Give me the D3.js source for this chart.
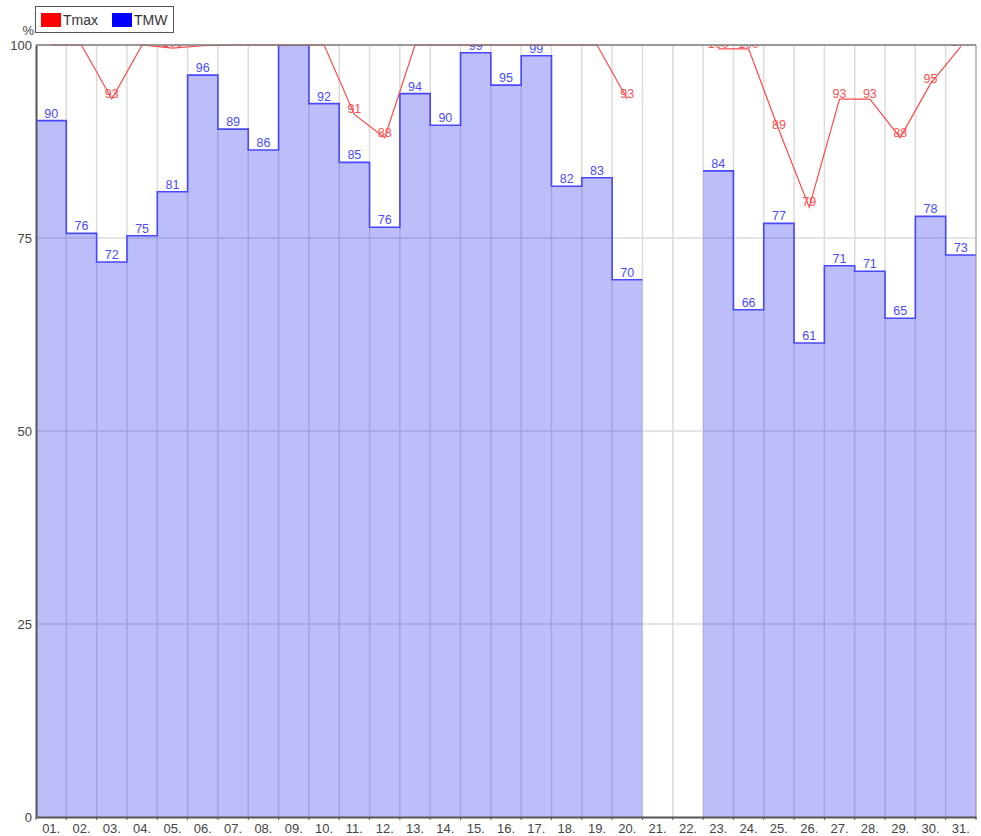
<!DOCTYPE html>
<html>
<head>
<meta charset="utf-8">
<script src="https://cdn.jsdelivr.net/npm/d3@7"></script>
<style>
body { margin: 0; background: #fff; }
svg { display: block; font-family: "Liberation Sans", Arial, sans-serif; }
</style>
</head>
<body>
<svg id="chart" width="981" height="836"></svg>
<script>
var days = ["01.", "02.", "03.", "04.", "05.", "06.", "07.", "08.", "09.", "10.",
	"11.", "12.", "13.", "14.", "15.", "16.", "17.", "18.", "19.", "20.",
	"21.", "22.", "23.", "24.", "25.", "26.", "27.", "28.", "29.", "30.", "31."];

// Tmax (red line), null = no data
var tmax = [100, 100, 93, 100, 99.6, 99.9, 100, 100, 100, 100,
	91, 88, 100, 100, 100, 100, 100, 100, 100, 93,
	null, null, 99.5, 99.5, 89, 79, 93, 93, 88, 95, 99.8];

// TMW (blue bars)
var tmw = [90.2, 75.6, 71.9, 75.3, 81.0, 96.1, 89.1, 86.4, 100, 92.4,
	84.8, 76.4, 93.7, 89.6, 99.0, 94.8, 98.6, 81.7, 82.8, 69.6,
	null, null, 83.7, 65.7, 76.9, 61.4, 71.4, 70.7, 64.6, 77.8, 72.8];

var yTicks = [0, 25, 50, 75, 100];

var legendItems = [
	{name: "Tmax", color: "#ff0000"},
	{name: "TMW", color: "#0000ff"}
];

var svg = d3.select("#chart");
var plotLeft = 36, plotRight = 976, plotTop = 45, plotBottom = 817;

var x = d3.scaleBand().domain(days).range([plotLeft, plotRight]).padding(0);
var y = d3.scaleLinear().domain([0, 100]).range([plotBottom, plotTop]);
var bw = x.bandwidth();

svg.append("clipPath").attr("id", "plot-clip")
	.append("rect")
	.attr("x", plotLeft).attr("y", plotTop)
	.attr("width", plotRight - plotLeft).attr("height", plotBottom - plotTop);

// grid
var grid = svg.append("g");
grid.selectAll("line.v").data(days.slice(1)).enter().append("line")
	.attr("x1", function(d) { return x(d); })
	.attr("x2", function(d) { return x(d); })
	.attr("y1", plotTop).attr("y2", plotBottom)
	.attr("stroke", "#dcdcdc").attr("stroke-width", 1.5);
grid.selectAll("line.h").data(yTicks.slice(1, -1)).enter().append("line")
	.attr("x1", plotLeft).attr("x2", plotRight)
	.attr("y1", function(d) { return y(d); })
	.attr("y2", function(d) { return y(d); })
	.attr("stroke", "#dcdcdc").attr("stroke-width", 1.5);

// step points for the bars
var steps = [];
tmw.forEach(function(v, i) {
	if (v == null) {
		steps.push(null);
		return;
	}
	steps.push({x: x(days[i]), v: v});
	steps.push({x: x(days[i]) + bw, v: v});
});

var area = d3.area()
	.defined(function(d) { return d != null; })
	.x(function(d) { return d.x; })
	.y0(y(0))
	.y1(function(d) { return y(d.v); });

svg.append("path")
	.attr("d", area(steps))
	.attr("fill", "rgb(0,0,235)")
	.attr("fill-opacity", 0.26);

var line = d3.line()
	.defined(function(d) { return d != null; })
	.x(function(d) { return d.x; })
	.y(function(d) { return y(d.v); });

svg.append("path")
	.attr("d", line(steps))
	.attr("fill", "none")
	.attr("stroke", "#4848ff")
	.attr("stroke-width", 1.6)
	.attr("clip-path", "url(#plot-clip)");

// red line
var redLine = d3.line()
	.defined(function(d) { return d != null; })
	.x(function(d, i) { return x(days[i]) + bw / 2; })
	.y(function(d) { return y(d); });

svg.append("path")
	.attr("d", redLine(tmax))
	.attr("fill", "none")
	.attr("stroke", "#ff4a4a")
	.attr("stroke-width", 1.2);

// value labels
var labels = svg.append("g").attr("clip-path", "url(#plot-clip)")
	.attr("font-size", 12.5).attr("text-anchor", "middle");

var tmwPts = tmw.map(function(v, i) { return {day: days[i], v: v}; })
	.filter(function(d) { return d.v != null; });
var tmaxPts = tmax.map(function(v, i) { return {day: days[i], v: v}; })
	.filter(function(d) { return d.v != null; });

labels.selectAll("text.tmw").data(tmwPts).enter().append("text")
	.attr("x", function(d) { return x(d.day) + bw / 2; })
	.attr("y", function(d) { return y(d.v) - 3; })
	.attr("fill", "#4a4aff")
	.text(function(d) { return Math.round(d.v); });

labels.selectAll("text.tmax").data(tmaxPts).enter().append("text")
	.attr("x", function(d) { return x(d.day) + bw / 2; })
	.attr("y", function(d) { return y(d.v) - 1; })
	.attr("fill", "#ff5050")
	.text(function(d) { return Math.round(d.v); });

// frame
svg.append("line").attr("x1", plotLeft).attr("x2", plotRight).attr("y1", plotTop).attr("y2", plotTop)
	.attr("stroke", "#777").attr("stroke-width", 1.5);
svg.append("line").attr("x1", plotRight).attr("x2", plotRight).attr("y1", plotTop).attr("y2", plotBottom)
	.attr("stroke", "#888").attr("stroke-width", 1);

// axes
var yAxis = svg.append("g").attr("transform", "translate(" + plotLeft + ",0)")
	.call(d3.axisLeft(y).tickValues(yTicks).tickSize(0).tickPadding(4));
yAxis.select(".domain").attr("stroke", "#555").attr("stroke-width", 2);
yAxis.selectAll("text").attr("font-size", 13).attr("fill", "#444")
	.attr("font-family", "Liberation Sans, Arial, sans-serif");

var xAxis = svg.append("g").attr("transform", "translate(0," + plotBottom + ")")
	.call(d3.axisBottom(x).tickSize(0).tickPadding(7));
xAxis.select(".domain").attr("stroke", "#555").attr("stroke-width", 2);
xAxis.selectAll("text").attr("font-size", 13).attr("fill", "#444")
	.attr("font-family", "Liberation Sans, Arial, sans-serif");

// small ticks at day boundaries
svg.append("g").selectAll("line").data(d3.range(days.length + 1)).enter().append("line")
	.attr("x1", function(i) { return plotLeft + i * bw; })
	.attr("x2", function(i) { return plotLeft + i * bw; })
	.attr("y1", plotBottom).attr("y2", plotBottom + 3)
	.attr("stroke", "#555");

svg.append("text").attr("x", 34).attr("y", 35).attr("text-anchor", "end")
	.attr("font-size", 13).attr("fill", "#444").text("%");

// legend
var legend = svg.append("g");
legend.append("rect").attr("x", 35.5).attr("y", 6.5).attr("width", 138).attr("height", 26)
	.attr("fill", "#fff").attr("stroke", "#555");
var item = legend.selectAll("g.item").data(legendItems).enter().append("g")
	.attr("transform", function(d, i) { return "translate(" + [41 + i * 71, 13] + ")"; });
item.append("rect").attr("width", 20).attr("height", 14)
	.attr("fill", function(d) { return d.color; });
item.append("text").attr("x", 22).attr("y", 12)
	.attr("font-size", 14).attr("fill", "#333")
	.text(function(d) { return d.name; });
</script>
</body>
</html>
